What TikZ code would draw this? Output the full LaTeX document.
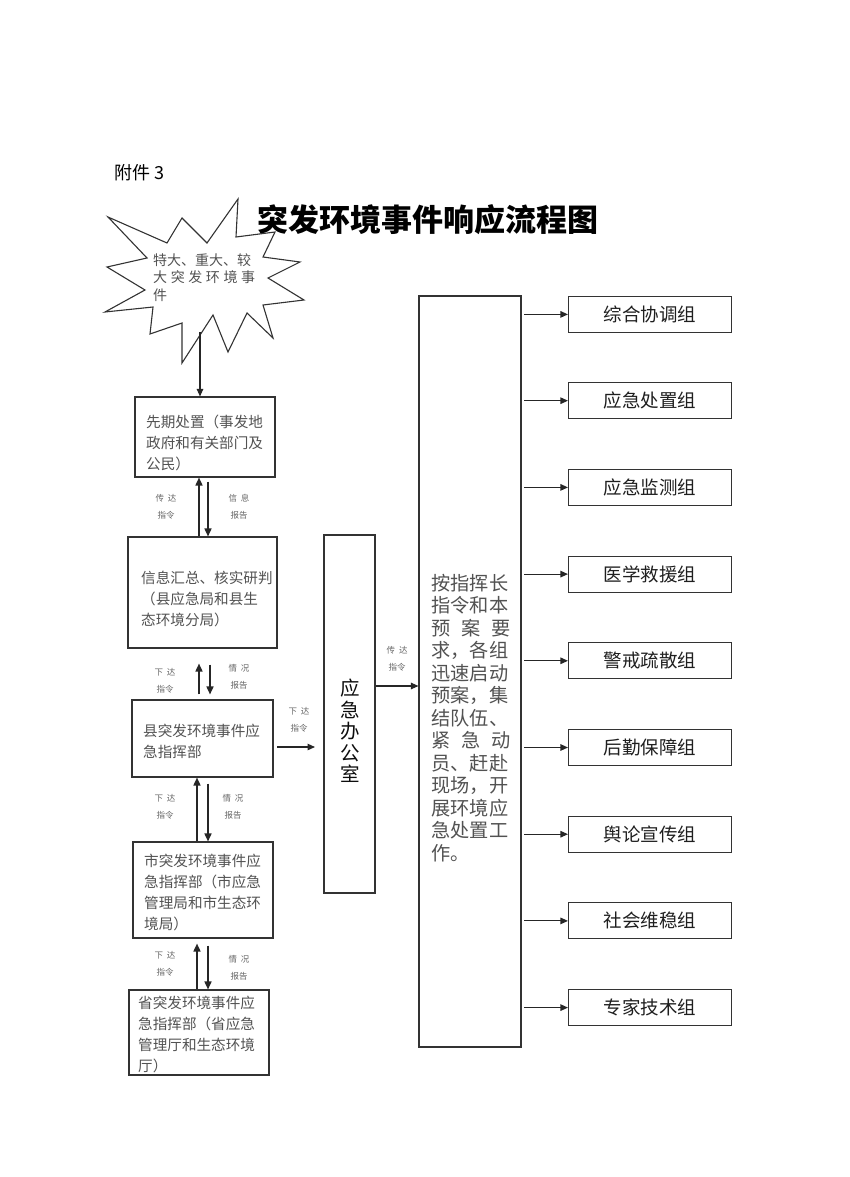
\documentclass[tikz,border=0pt]{standalone}
\usepackage{fontspec}
\setmainfont{Noto Sans CJK SC}
\usetikzlibrary{arrows.meta}
\tikzset{
  box/.style={draw=black!80, line width=1.1pt, inner sep=0pt},
  btxt/.style={text=black!68, font=\fontsize{14.6}{21}\selectfont, align=left, inner sep=0pt, anchor=west},
  grp/.style={box, minimum width=163pt, minimum height=36pt, font=\fontsize{18.5}{20}\selectfont, text=black!88},
  lab/.style={text=black!60, font=\fontsize{8.5}{16.5}\selectfont, align=center, inner sep=0pt},
  arr/.style={draw=black!85, line width=1.1pt, -{Triangle[length=7.5pt,width=6.5pt]}},
  varr/.style={draw=black!85, line width=1.6pt, -{Triangle[length=8pt,width=7pt]}}
}
\begin{document}
\begin{tikzpicture}[x=1pt,y=-1pt]
\useasboundingbox[fill=white] (0,0) rectangle (850,1177);

% header
\node[anchor=west, inner sep=0pt, font=\fontsize{18}{20}\selectfont] (fj) at (114,173) {附件 3};
\node[inner sep=0pt, font=\fontsize{31}{34}\selectfont\bfseries] (title) at (428,220) {突发环境事件响应流程图};

% starburst
\draw[box] (108,217) -- (167,243) -- (182,218) -- (207,243) -- (238,199) -- (236,237)
  -- (275,232) -- (263,257) -- (300,262) -- (268,278) -- (304,300) -- (263,305)
  -- (273,338) -- (247,313) -- (228,352) -- (213,315) -- (182,363) -- (182,323)
  -- (150,334) -- (153,307) -- (105,312) -- (145,290) -- (107,267) -- (147,258) -- cycle;
\node[inner sep=0pt, anchor=north west, text width=102pt, align=left, text=black!68,
      font=\fontsize{14}{17.5}\selectfont] (star) at (153,253)
  {特大、重大、较\\大\hfill 突\hfill 发\hfill 环\hfill 境\hfill 事\\件};
\coordinate (sb) at (200,332);

% left column boxes
\node[box, minimum width=140pt, minimum height=80pt] (b1) at (205,437) {};
\node[btxt] (t1) at (146,443) {先期处置（事发地\\政府和有关部门及\\公民）};
\node[box, minimum width=149pt, minimum height=111pt] (b2) at (202.5,592.5) {};
\node[btxt] (t2) at (141,599) {信息汇总、核实研判\\（县应急局和县生\\态环境分局）};
\node[box, minimum width=141pt, minimum height=77pt] (b3) at (202.5,738.5) {};
\node[btxt] (t3) at (143,741) {县突发环境事件应\\急指挥部};
\node[box, minimum width=140pt, minimum height=96pt] (b4) at (203,890) {};
\node[btxt] (t4) at (144,892) {市突发环境事件应\\急指挥部（市应急\\管理局和市生态环\\境局）};
\node[box, minimum width=140pt, minimum height=85pt] (b5) at (199,1032.5) {};
\node[btxt] (t5) at (138,1034) {省突发环境事件应\\急指挥部（省应急\\管理厅和生态环境\\厅）};

% office and big box
\node[box, minimum width=51pt, minimum height=358pt] (office) at (349.5,714) {};
\node[inner sep=0pt, align=center, text=black!95, font=\fontsize{19.5}{21.5}\selectfont] (otext) at (350,731) {应\\急\\办\\公\\室};
\node[box, minimum width=102pt, minimum height=751pt] (big) at (470,671.5) {};
\node[inner sep=0pt, text width=79pt, align=left, text=black!68, font=\fontsize{19.2}{22.5}\selectfont] (btext) at (471,718)
  {按指挥长\\指令和本\\预\hfill 案\hfill 要\\求，各组\\迅速启动\\预案，集\\结队伍、\\紧\hfill 急\hfill 动\\员、赶赴\\现场，开\\展环境应\\急处置工\\作。};

% groups
\node[grp] (g1) at (650,314.4) {综合协调组};
\node[grp] (g2) at (650,400.7) {应急处置组};
\node[grp] (g3) at (650,487.4) {应急监测组};
\node[grp] (g4) at (650,574.1) {医学救援组};
\node[grp] (g5) at (650,660.8) {警戒疏散组};
\node[grp] (g6) at (650,747.5) {后勤保障组};
\node[grp] (g7) at (650,834.2) {舆论宣传组};
\node[grp] (g8) at (650,920.9) {社会维稳组};
\node[grp] (g9) at (650,1007.6) {专家技术组};

% coordinates for arrow columns
\coordinate (ua) at (199,0);
\coordinate (da) at (208,0);
\coordinate (db) at (210,0);
\coordinate (uc) at (197,0);
\coordinate (bx) at (524,0);
\coordinate (ob) at (0,686);
\coordinate (o1) at (277,747);
\coordinate (o2) at (315,747);

% connectors
\draw[arr] (sb) -- (sb |- b1.north);
\draw[varr] (b2.north -| ua) -- (b1.south -| ua);
\draw[varr] ([yshift=-4pt]b1.south -| da) -- (b2.north -| da);
\draw[varr] ([yshift=5pt]b3.north -| ua) -- ([yshift=-15pt]b2.south -| ua);
\draw[varr] ([yshift=-16pt]b2.south -| db) -- ([yshift=5pt]b3.north -| db);
\draw[varr] (b4.north -| uc) -- (b3.south -| uc);
\draw[varr] ([yshift=-6pt]b3.south -| da) -- (b4.north -| da);
\draw[varr] (b5.north -| uc) -- ([yshift=-5pt]b4.south -| uc);
\draw[varr] ([yshift=-7pt]b4.south -| da) -- (b5.north -| da);
\draw[arr] (o1) -- (o2);
\draw[arr] (office.east |- ob) -- (big.west |- ob);
\foreach \g in {g1,g2,g3,g4,g5,g6,g7,g8,g9}
  \draw[arr] (\g.west -| bx) -- (\g.west);

% small labels
\node[lab] (l1) at (166,507) {传\hspace{4pt}达\\指令};
\node[lab] (l2) at (239,507) {信\hspace{4pt}息\\报告};
\node[lab] (l3) at (165,681) {下\hspace{4pt}达\\指令};
\node[lab] (l4) at (239,677) {情\hspace{4pt}况\\报告};
\node[lab] (l5) at (165,807) {下\hspace{4pt}达\\指令};
\node[lab] (l6) at (233,807) {情\hspace{4pt}况\\报告};
\node[lab] (l7) at (165,964) {下\hspace{4pt}达\\指令};
\node[lab] (l8) at (239,968) {情\hspace{4pt}况\\报告};
\node[lab] (l9) at (299,720) {下\hspace{4pt}达\\指令};
\node[lab] (l10) at (397,659) {传\hspace{4pt}达\\指令};
\end{tikzpicture}
\end{document}
